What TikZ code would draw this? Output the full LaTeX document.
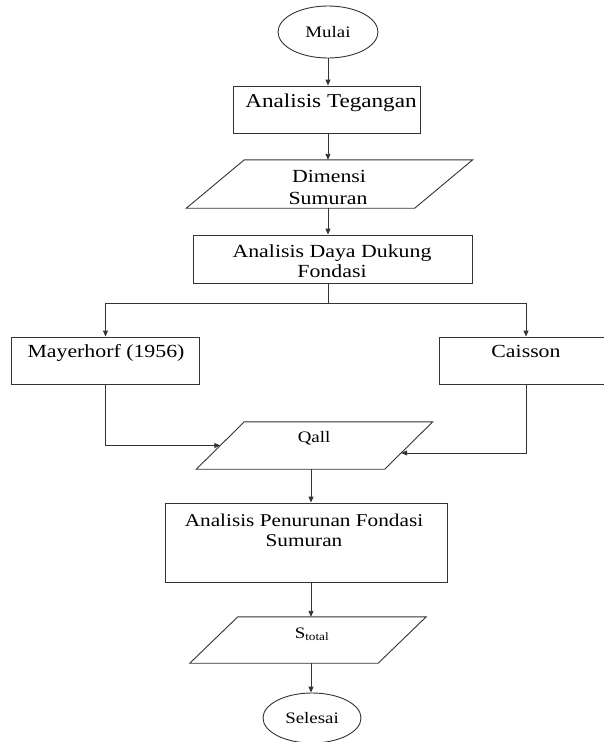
\documentclass[tikz,border=0pt]{standalone}
\usepackage{fontspec}
\newfontfamily\tnr[FakeStretch=1.18]{Liberation Serif}
\usetikzlibrary{shapes.geometric,arrows.meta,calc}
\begin{document}
\begin{tikzpicture}[x=1pt,y=-1pt,
  line/.style={line width=0.9pt, draw=black!80},
  arr/.style={line, -{Triangle[length=6pt,width=5pt]}},
  box/.style={draw=black!80, line width=0.9pt, rectangle, inner sep=0pt},
  term/.style={draw=black!80, line width=0.9pt, ellipse, inner sep=0pt,
    font=\tnr\fontsize{16}{18}\selectfont},
  parabody/.style={rectangle, inner sep=0pt},
  big/.style={font=\tnr\fontsize{18.5}{20}\selectfont, inner sep=0pt, anchor=base},
  small/.style={font=\tnr\fontsize{16}{18}\selectfont, inner sep=0pt, anchor=base},
]
\useasboundingbox[fill=white] (0,0) rectangle (603,742);

\coordinate (colA) at (328,0);
\coordinate (colB) at (311,0);

% start
\node[term, minimum width=100pt, minimum height=52pt] (start) at (328,32) {Mulai};

% Analisis Tegangan
\node[box, minimum width=187pt, minimum height=47pt] (tegangan) at (326.5,109.5) {};
\node[big, font=\tnr\fontsize{19.6}{21}\selectfont] (tegangantxt) at (331,107) {Analisis Tegangan};

% Dimensi Sumuran (parallelogram, slant 29 each side of the mid line)
\node[parabody, minimum width=228pt, minimum height=48pt] (dimensi) at (329.5,184) {};
\draw[line] ($(dimensi.north west)+(29,0)$) -- ($(dimensi.north east)+(29,0)$)
  -- ($(dimensi.south east)+(-29,0)$) -- ($(dimensi.south west)+(-29,0)$) -- cycle;
\node[big] (dimensitxt1) at (329,182) {Dimensi};
\node[big] (dimensitxt2) at (328,204) {Sumuran};

% Analisis Daya Dukung Fondasi
\node[box, minimum width=279pt, minimum height=48pt] (daya) at (332.5,259) {};
\node[big] (dayatxt1) at (332,257) {Analisis Daya Dukung};
\node[big] (dayatxt2) at (332,277) {Fondasi};

% branches
\coordinate (split) at (328,303);
\node[box, minimum width=188pt, minimum height=47pt] (mayer) at (105.5,360.5) {};
\node[big] (mayertxt) at (106,357) {Mayerhorf (1956)};
\node[box, minimum width=174pt, minimum height=47pt] (caisson) at (526,360.5) {};
\node[big] (caissontxt) at (526,357) {Caisson};

% Qall (parallelogram, slant 24)
\node[parabody, minimum width=188pt, minimum height=47pt] (qall) at (314.5,445.5) {};
\draw[line] ($(qall.north west)+(24,0)$) -- ($(qall.north east)+(24,0)$)
  -- ($(qall.south east)+(-24,0)$) -- ($(qall.south west)+(-24,0)$) -- cycle;
\node[small] (qalltxt) at (314,442) {Qall};

% Analisis Penurunan
\node[box, minimum width=282pt, minimum height=79pt] (turun) at (306,542.5) {};
\node[big, font=\tnr\fontsize{18}{20}\selectfont] (turuntxt1) at (304,526) {Analisis Penurunan Fondasi};
\node[big, font=\tnr\fontsize{18}{20}\selectfont] (turuntxt2) at (304,546) {Sumuran};

% S total (parallelogram, slant 24)
\node[parabody, minimum width=188pt, minimum height=46pt] (stotal) at (308,640) {};
\draw[line] ($(stotal.north west)+(24,0)$) -- ($(stotal.north east)+(24,0)$)
  -- ($(stotal.south east)+(-24,0)$) -- ($(stotal.south west)+(-24,0)$) -- cycle;
\node[small] (stotaltxt) at (312,638) {S\textsubscript{total}};

% end
\node[term, minimum width=98pt, minimum height=50pt] (selesai) at (312,718) {Selesai};

% connectors
\draw[arr] (start.south) -- (colA |- tegangan.north);
\draw[arr] (colA |- tegangan.south) -- (colA |- dimensi.north);
\draw[arr] (colA |- dimensi.south) -- (colA |- daya.north);
\draw[line] (colA |- daya.south) -- (split);
\draw[arr] (split) -| (mayer.north);
\draw[arr] (split) -| (caisson.north);
\draw[arr] (mayer.south) |- (qall.west);
\draw[arr] (caisson.south) |- ($(qall.east)+(-7.5,7.5)$);
\draw[arr] (colB |- qall.south) -- (colB |- turun.north);
\draw[arr] (colB |- turun.south) -- (colB |- stotal.north);
\draw[arr] (colB |- stotal.south) -- (colB |- selesai.north);
\end{tikzpicture}
\end{document}
